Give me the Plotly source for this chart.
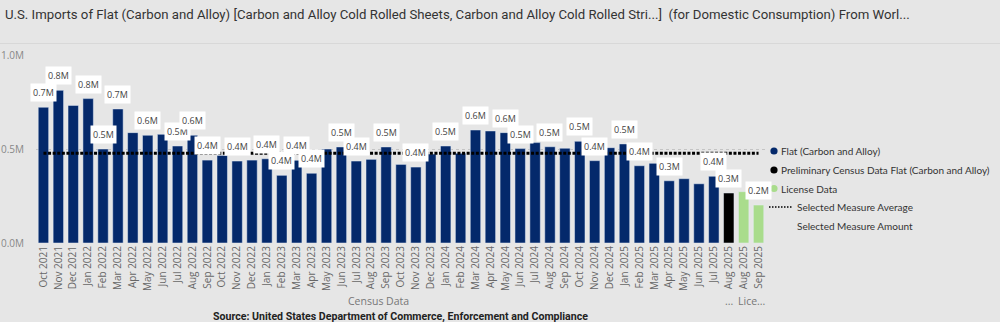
import plotly.graph_objects as go

# ---------------- data (values in millions) ----------------
census_months = [
    "Oct 2021", "Nov 2021", "Dec 2021", "Jan 2022", "Feb 2022", "Mar 2022", "Apr 2022",
    "May 2022", "Jun 2022", "Jul 2022", "Aug 2022", "Sep 2022", "Oct 2022", "Nov 2022",
    "Dec 2022", "Jan 2023", "Feb 2023", "Mar 2023", "Apr 2023", "May 2023", "Jun 2023",
    "Jul 2023", "Aug 2023", "Sep 2023", "Oct 2023", "Nov 2023", "Dec 2023", "Jan 2024",
    "Feb 2024", "Mar 2024", "Apr 2024", "May 2024", "Jun 2024", "Jul 2024", "Aug 2024",
    "Sep 2024", "Oct 2024", "Nov 2024", "Dec 2024", "Jan 2025", "Feb 2025", "Mar 2025",
    "Apr 2025", "May 2025", "Jun 2025", "Jul 2025",
]
flat_values = [
    0.722, 0.812, 0.732, 0.768, 0.500, 0.713, 0.587,
    0.573, 0.578, 0.516, 0.573, 0.441, 0.466, 0.436,
    0.441, 0.448, 0.360, 0.440, 0.371, 0.500, 0.511,
    0.436, 0.445, 0.511, 0.418, 0.404, 0.473, 0.516,
    0.477, 0.601, 0.596, 0.587, 0.502, 0.534, 0.512,
    0.504, 0.541, 0.438, 0.507, 0.527, 0.411, 0.424,
    0.331, 0.342, 0.315, 0.355,
]
prelim_months = ["Aug 2025"]
prelim_values = [0.266]
license_months = ["Aug 2025", "Sep 2025"]
license_values = [0.273, 0.202]
selected_measure_average = 0.477

labeled_census = [
    "Oct 2021", "Nov 2021", "Jan 2022", "Feb 2022", "Mar 2022", "May 2022", "Jul 2022",
    "Aug 2022", "Sep 2022", "Nov 2022", "Jan 2023", "Feb 2023", "Mar 2023", "Apr 2023",
    "Jun 2023", "Jul 2023", "Sep 2023", "Nov 2023", "Jan 2024", "Mar 2024", "May 2024",
    "Jun 2024", "Aug 2024", "Oct 2024", "Nov 2024", "Jan 2025", "Feb 2025", "Apr 2025",
    "Jul 2025",
]
labeled_prelim = ["Aug 2025"]
labeled_license = ["Sep 2025"]

group_names = ["Census Data", "...", "Lice..."]
y_ticks = [0.0, 0.5, 1.0]
y_tick_labels = ["0.0M", "0.5M", "1.0M"]

title_text = ("U.S. Imports of Flat (Carbon and Alloy) [Carbon and Alloy Cold Rolled Sheets, "
              "Carbon and Alloy Cold Rolled Stri...]  (for Domestic Consumption) From Worl...")
source_text = "Source: United States Department of Commerce, Enforcement and Compliance"

# ---------------- styles ----------------
NAVY = "#04296b"
GREEN = "#a9dc8c"
BLACK = "#000000"
BG = "#e6e6e6"
FONT = "Open Sans"
LEGFONT = "Lato"
W, H = 1000, 322
ML, MR, MT, MB = 36, 234, 55, 79
PW, PH = W - ML - MR, H - MT - MB


def xp(p):
    return (p - ML) / PW


def yp(p):
    return (H - MB - p) / PH


def key(group, m):
    return group + "|" + m


census_x = [key("C", m) for m in census_months]
prelim_x = [key("P", m) for m in prelim_months]
license_x = [key("L", m) for m in license_months]
all_x = census_x + prelim_x + license_x
all_text = census_months + prelim_months + license_months

fig = go.Figure()
fig.add_trace(go.Bar(x=census_x, y=flat_values, marker_color=NAVY, width=0.7,
                     name="Flat (Carbon and Alloy)", showlegend=False, hoverinfo="skip"))
fig.add_trace(go.Bar(x=prelim_x, y=prelim_values, marker_color=BLACK, width=0.7,
                     name="Preliminary Census Data Flat (Carbon and Alloy)", showlegend=False,
                     hoverinfo="skip"))
fig.add_trace(go.Bar(x=license_x, y=license_values, marker_color=GREEN, width=0.7,
                     name="License Data", showlegend=False, hoverinfo="skip"))
fig.add_trace(go.Scatter(x=all_x, y=[selected_measure_average] * len(all_x), mode="lines",
                         line=dict(color="black", width=3, dash="3px,1.6px"),
                         name="Selected Measure Average", showlegend=False, hoverinfo="skip"))

annotations = []


def add_labels(xs, months, vals, labeled):
    for xk, m, v in zip(xs, months, vals):
        if m in labeled:
            annotations.append(dict(x=xk, y=v, xref="x", yref="y", text=f"{v:.1f}M",
                                    showarrow=False, yanchor="bottom", yshift=5,
                                    bgcolor="white", borderpad=2,
                                    font=dict(family=FONT, size=9, color="#444444")))


add_labels(census_x, census_months, flat_values, labeled_census)
add_labels(prelim_x, prelim_months, prelim_values, labeled_prelim)
add_labels(license_x, license_months, license_values, labeled_license)

# group labels under the x axis
n_c, n_p, n_l = len(census_x), len(prelim_x), len(license_x)
group_centers = [(n_c - 1) / 2, n_c + (n_p - 1) / 2, n_c + n_p + (n_l - 1) / 2]
for g, c in zip(group_names, group_centers):
    annotations.append(dict(x=c, y=yp(301), xref="x", yref="paper", text=g, showarrow=False,
                            yanchor="middle", font=dict(family=FONT, size=10.5, color="#777777")))

annotations.append(dict(x=xp(400), y=yp(316.5), xref="paper", yref="paper",
                        text="<b>" + source_text + "</b>",
                        showarrow=False, yanchor="middle",
                        font=dict(family="Roboto", size=10.6, color="#222222")))

# manual legend
shapes = []
legend_items = [
    ("circle", NAVY, "Flat (Carbon and Alloy)", 151),
    ("circle", BLACK, "Preliminary Census Data Flat (Carbon and Alloy)", 170),
    ("circle", GREEN, "License Data", 188.5),
    ("line", BLACK, "Selected Measure Average", 207),
    ("none", None, "Selected Measure Amount", 226),
]
for kind, col, txt, ypix in legend_items:
    if kind == "circle":
        shapes.append(dict(type="circle", xref="paper", yref="paper", xsizemode="pixel",
                           ysizemode="pixel", xanchor=xp(774), yanchor=yp(ypix),
                           x0=-3.6, x1=3.6, y0=-3.6, y1=3.6, fillcolor=col, line_width=0))
        tx = 778.5
    else:
        if kind == "line":
            shapes.append(dict(type="line", xref="paper", yref="paper", x0=xp(769), x1=xp(793),
                               y0=yp(ypix), y1=yp(ypix),
                               line=dict(color=col, width=1.5, dash="1.5px,1.5px")))
        tx = 794.5
    annotations.append(dict(x=xp(tx), y=yp(ypix), xref="paper", yref="paper", text=txt,
                            showarrow=False, xanchor="left", yanchor="middle",
                            font=dict(family=LEGFONT, size=10, color="#333333")))

shapes.append(dict(type="line", xref="paper", yref="paper", x0=xp(0), x1=xp(1000),
                   y0=yp(43.5), y1=yp(43.5), line=dict(color="#d8d8d8", width=1)))

fig.update_layout(
    width=W, height=H,
    margin=dict(l=ML, r=MR, t=MT, b=MB, autoexpand=False),
    paper_bgcolor=BG, plot_bgcolor=BG,
    barmode="overlay",
    title=dict(text=title_text, x=5 / W, xanchor="left", y=1 - 14 / H, yanchor="middle",
               font=dict(family="Roboto", size=13.2, color="#333333")),
    xaxis=dict(type="category", categoryorder="array", categoryarray=all_x,
               tickvals=all_x, ticktext=all_text, tickangle=-90,
               tickfont=dict(family=FONT, size=10, color="#666666"),
               showgrid=False, zeroline=False, showline=False, ticks="",
               range=[-0.5, len(all_x) - 0.5], automargin=False),
    yaxis=dict(range=[0, 1.0], tickvals=y_ticks, ticktext=y_tick_labels,
               tickfont=dict(family=FONT, size=10, color="#888888"),
               showgrid=True, gridcolor="#c4c4c4", griddash="dot", gridwidth=1,
               zeroline=False, showline=False, ticks="", ticklabelstandoff=11,
               automargin=False),
    annotations=annotations,
    shapes=shapes,
    showlegend=False,
)

fig.write_html("out.html")
